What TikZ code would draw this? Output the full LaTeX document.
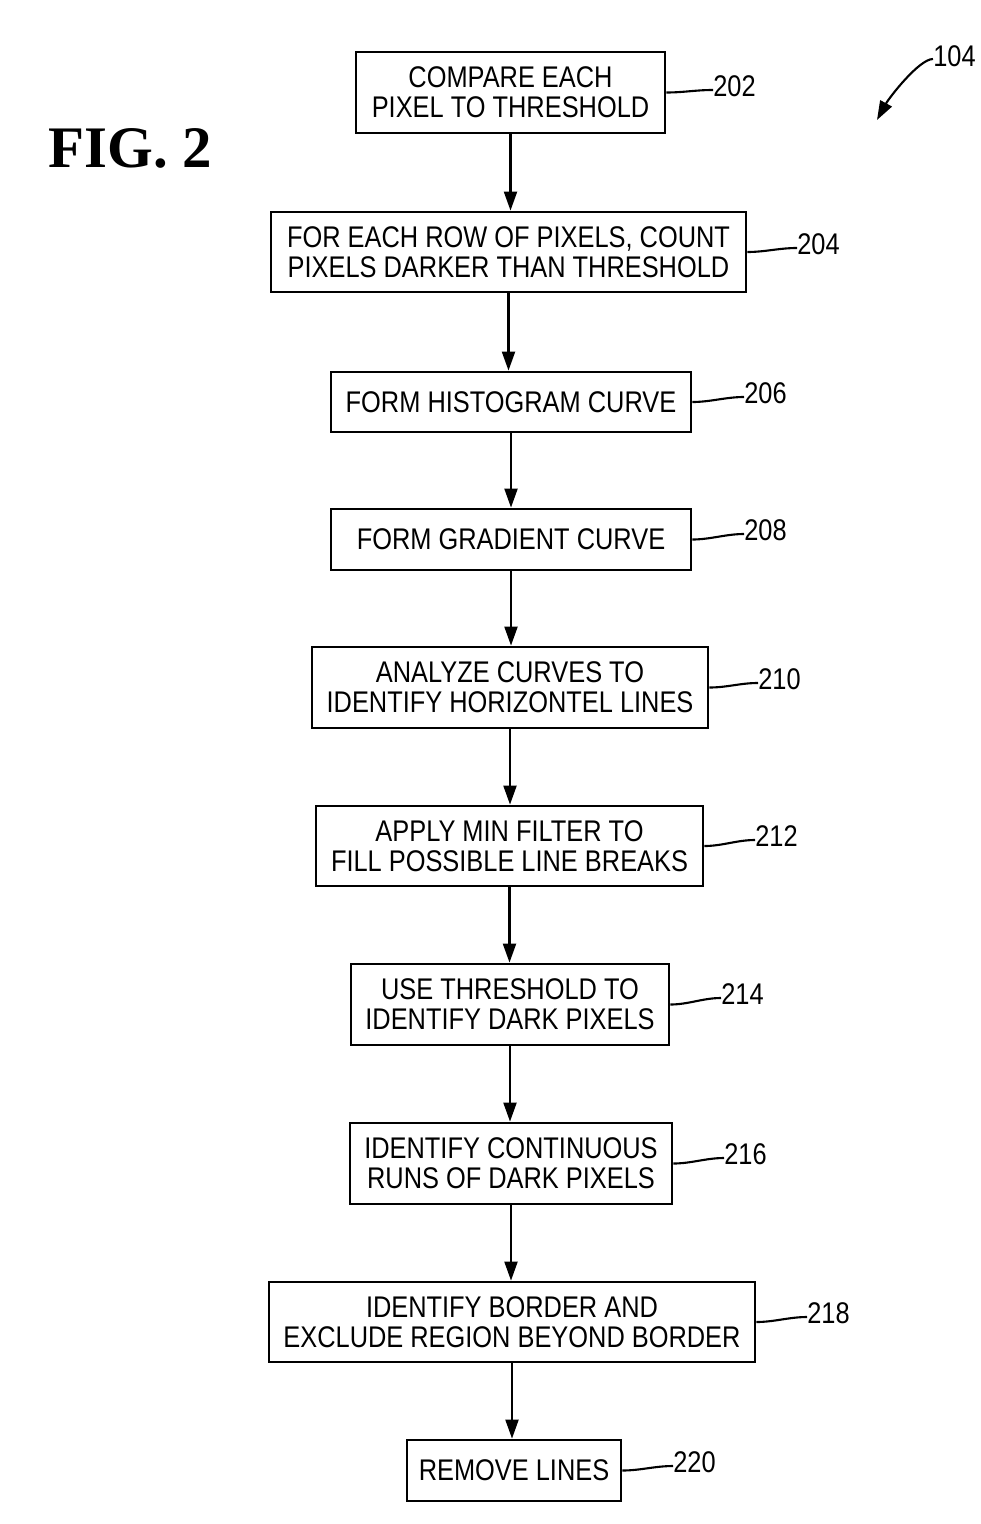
\documentclass[tikz,border=0pt]{standalone}
\usepackage{fontspec}
\setmainfont[FakeStretch=0.85]{Liberation Sans}
\newfontfamily\figfont{Liberation Serif}
\usetikzlibrary{arrows.meta}

\begin{document}
\begin{tikzpicture}[x=0.02cm, y=-0.02cm,
    stepbox/.style={draw, line width=1.6pt, align=center, inner sep=0pt, font=\fontsize{17}{17}\selectfont},
    flow/.style={line width=1.2pt, -{Triangle[length=0.38cm, width=0.26cm]}},
    leader/.style={line width=1.2pt},
    refnum/.style={anchor=west, inner sep=0pt, font=\fontsize{17}{17}\selectfont}]
    \useasboundingbox (0,0) rectangle (980,1524);

    \node [anchor=west, inner sep=0pt, font=\figfont\bfseries\fontsize{33.5}{34}\selectfont] (fig) at (48,148) {FIG. 2};

    \node [stepbox, minimum width=6.18cm, minimum height=1.62cm] (s202) at (510.5,92.5) {COMPARE EACH\\PIXEL TO THRESHOLD};
    \node [stepbox, minimum width=9.5cm, minimum height=1.6cm] (s204) at (508.5,252) {FOR EACH ROW OF PIXELS, COUNT\\PIXELS DARKER THAN THRESHOLD};
    \node [stepbox, minimum width=7.2cm, minimum height=1.2cm] (s206) at (511,402) {FORM HISTOGRAM CURVE};
    \node [stepbox, minimum width=7.2cm, minimum height=1.22cm] (s208) at (511,539.5) {FORM GRADIENT CURVE};
    \node [stepbox, minimum width=7.92cm, minimum height=1.62cm] (s210) at (510,687.5) {ANALYZE CURVES TO\\IDENTIFY HORIZONTEL LINES};
    \node [stepbox, minimum width=7.74cm, minimum height=1.6cm] (s212) at (509.5,846) {APPLY MIN FILTER TO\\FILL POSSIBLE LINE BREAKS};
    \node [stepbox, minimum width=6.36cm, minimum height=1.62cm] (s214) at (510,1004.5) {USE THRESHOLD TO\\IDENTIFY DARK PIXELS};
    \node [stepbox, minimum width=6.44cm, minimum height=1.62cm] (s216) at (511,1163.5) {IDENTIFY CONTINUOUS\\RUNS OF DARK PIXELS};
    \node [stepbox, minimum width=9.72cm, minimum height=1.6cm] (s218) at (512,1322) {IDENTIFY BORDER AND\\EXCLUDE REGION BEYOND BORDER};
    \node [stepbox, minimum width=4.28cm, minimum height=1.22cm] (s220) at (514,1470.5) {REMOVE LINES};

    \foreach \a/\b in {202/204,204/206,206/208,208/210,210/212,212/214,214/216,216/218,218/220}
        \draw [flow] (s\a.south) -- (s\a.south |- s\b.north);

    % reference numerals
    \node [refnum] (n202) at (713,86) {202};
    \node [refnum] (n204) at (797,244) {204};
    \node [refnum] (n206) at (744,393) {206};
    \node [refnum] (n208) at (744,530) {208};
    \node [refnum] (n210) at (758,679) {210};
    \node [refnum] (n212) at (755,836) {212};
    \node [refnum] (n214) at (721,994) {214};
    \node [refnum] (n216) at (724,1154) {216};
    \node [refnum] (n218) at (807,1313) {218};
    \node [refnum] (n220) at (673,1462) {220};
    \node [refnum] (n104) at (933,56) {104};

    \foreach \n in {202,204,206,208,210,212,214,216,218,220}
        \draw [leader] (s\n.east) .. controls +(18,0) and +(-18,0) .. ([yshift=-0.08cm]n\n.west);

    \coordinate (tip104) at (877,120);
    \draw [flow] ([yshift=-0.06cm]n104.west) .. controls +(-14,0) and +(12,-22) .. (tip104);
\end{tikzpicture}
\end{document}
